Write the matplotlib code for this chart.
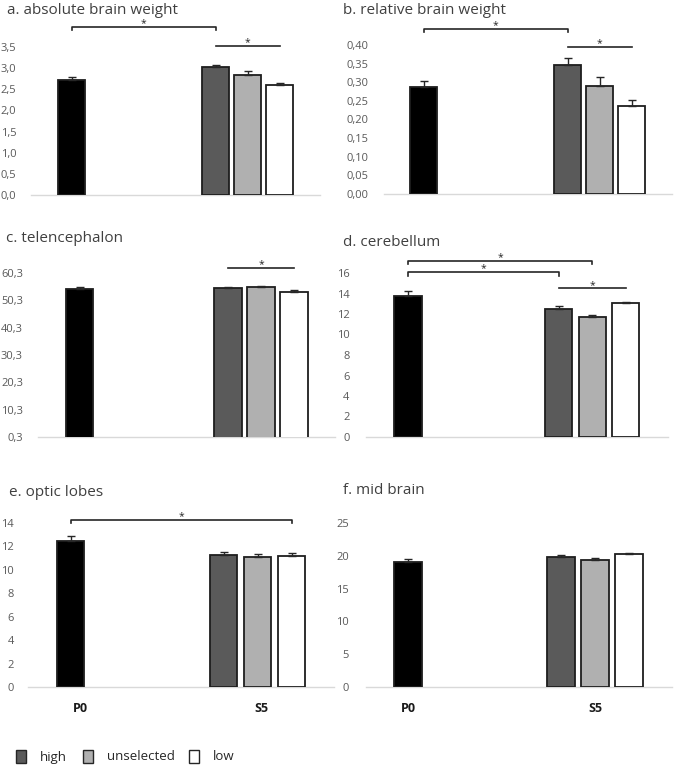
import matplotlib
matplotlib.use("Agg")
import matplotlib.pyplot as plt
from matplotlib.patches import Rectangle

plt.rcParams['font.family'] = ['Open Sans', 'DejaVu Sans']

W, H = 675, 775

groups = ["P0", "high", "unselected", "low"]
bar_colors = ["#000000", "#5a5a5a", "#b0b0b0", "#ffffff"]

titles = ["a. absolute brain weight", "b. relative brain weight", "c. telencephalon",
          "d. cerebellum", "e. optic lobes", "f. mid brain"]

means_a = [2.73, 3.02, 2.84, 2.59]
err_a = [0.07, 0.06, 0.10, 0.06]
means_b = [0.288, 0.346, 0.290, 0.236]
err_b = [0.015, 0.020, 0.025, 0.016]
means_c = [54.6, 54.9, 55.1, 53.5]
err_c = [0.4, 0.4, 0.4, 0.4]
means_d = [13.76, 12.50, 11.67, 13.04]
err_d = [0.45, 0.25, 0.23, 0.16]
means_e = [12.49, 11.25, 11.10, 11.16]
err_e = [0.43, 0.30, 0.26, 0.28]
means_f = [19.10, 19.77, 19.36, 20.22]
err_f = [0.40, 0.30, 0.30, 0.25]

ticks_a = [0.0, 0.5, 1.0, 1.5, 2.0, 2.5, 3.0, 3.5]
ticks_b = [0.00, 0.05, 0.10, 0.15, 0.20, 0.25, 0.30, 0.35, 0.40]
ticks_c = [0.3, 10.3, 20.3, 30.3, 40.3, 50.3, 60.3]
ticks_d = [0, 2, 4, 6, 8, 10, 12, 14, 16]
ticks_e = [0, 2, 4, 6, 8, 10, 12, 14]
ticks_f = [0, 5, 10, 15, 20, 25]

labels_a = ["0,0", "0,5", "1,0", "1,5", "2,0", "2,5", "3,0", "3,5"]
labels_b = ["0,00", "0,05", "0,10", "0,15", "0,20", "0,25", "0,30", "0,35", "0,40"]
labels_c = ["0,3", "10,3", "20,3", "30,3", "40,3", "50,3", "60,3"]
labels_d = [str(t) for t in ticks_d]
labels_e = [str(t) for t in ticks_e]
labels_f = [str(t) for t in ticks_f]

# significance: (group i, group j, height, ticks?)
sig_a = [(0, 1, 3.97, True), (1, 3, 3.52, False)]
sig_b = [(0, 1, 0.443, True), (1, 3, 0.395, False)]
sig_c = [(1, 3, 62.1, False)]
sig_d = [(0, 2, 17.2, True), (0, 1, 16.07, True), (1, 3, 14.5, False)]
sig_e = [(0, 3, 14.26, True)]
sig_f = []

xpos = [0, 4.5, 5.5, 6.5]
xlim = (-1.25, 7.75)

# layout: p0 center px, pitch px, baseline px, top-tick px, label pad, title pos
layout = [
    dict(p0=71.5, pitch=32.0, base=195, top=47, pad=11, tx=7, ty=10),
    dict(p0=423.5, pitch=32.0, base=194, top=45, pad=11, tx=343, ty=10),
    dict(p0=79.5, pitch=33.0, base=437, top=273, pad=11, tx=6, ty=239),
    dict(p0=408, pitch=33.5, base=437, top=273, pad=12, tx=343, ty=242),
    dict(p0=70.5, pitch=34.0, base=687, top=523, pad=10, tx=9, ty=493),
    dict(p0=408, pitch=34.0, base=687, top=523, pad=12, tx=343, ty=491),
]

data = [
    (means_a, err_a, ticks_a, labels_a, sig_a),
    (means_b, err_b, ticks_b, labels_b, sig_b),
    (means_c, err_c, ticks_c, labels_c, sig_c),
    (means_d, err_d, ticks_d, labels_d, sig_d),
    (means_e, err_e, ticks_e, labels_e, sig_e),
    (means_f, err_f, ticks_f, labels_f, sig_f),
]

fig = plt.figure(figsize=(W / 100, H / 100), dpi=100)

text_gray = "#595959"
title_gray = "#404040"

axes = []
for k, (lay, (m, e, ticks, tlabels, sigs)) in enumerate(zip(layout, data)):
    left = lay['p0'] + xlim[0] * lay['pitch']
    right = lay['p0'] + xlim[1] * lay['pitch']
    ax = fig.add_axes([left / W, 1 - lay['base'] / H, (right - left) / W,
                       (lay['base'] - lay['top']) / H])
    ax.set_xlim(*xlim)
    ax.set_ylim(ticks[0], ticks[-1])
    ax.bar(xpos, m, width=0.82, color=bar_colors, edgecolor="#1e1e1e",
           linewidth=1.3, zorder=3)
    ax.errorbar(xpos, m, yerr=[[0] * 4, e], fmt='none', ecolor="#262626",
                elinewidth=1.0, capsize=3.0, capthick=1.0, zorder=4)
    ax.set_yticks(ticks)
    ax.set_yticklabels(tlabels)
    ax.tick_params(axis='y', length=0, labelsize=8, labelcolor=text_gray, pad=lay['pad'])
    ax.set_xticks([])
    for s in ['top', 'right', 'left']:
        ax.spines[s].set_visible(False)
    ax.spines['bottom'].set_color("#d9d9d9")
    ax.spines['bottom'].set_linewidth(1.0)
    ax.patch.set_visible(False)

    yr = ticks[-1] - ticks[0]
    for (i, j, h, tk) in sigs:
        x1, x2 = xpos[i], xpos[j]
        if tk:
            d = yr * 0.02
            ax.plot([x1, x1, x2, x2], [h - d, h, h, h - d], color="#262626",
                    lw=1.2, clip_on=False)
        else:
            ax.plot([x1, x2], [h, h], color="#262626", lw=1.2, clip_on=False)
        ax.annotate("*", xy=((x1 + x2) / 2, h), xytext=(0, 0.5),
                    textcoords='offset points', ha='center', va='baseline',
                    fontsize=7.5, color="#262626", annotation_clip=False)

    fig.text(lay['tx'] / W, 1 - lay['ty'] / H, titles[k], ha='left', va='center',
             fontsize=11, color=title_gray)
    axes.append(ax)

# group labels under bottom panels
group_labels = ["P0", "S5"]
for ax, lay, xs in [(axes[4], layout[4], [80.5, 261]), (axes[5], layout[5], [408, 595])]:
    base = lay['base']
    for lab, px in zip(group_labels, xs):
        fig.text(px / W, 1 - (base + 21) / H, lab, ha='center', va='center',
                 fontsize=9, fontweight='bold', color="#1a1a1a")

# legend
legend_items = [("high", bar_colors[1], 16, 40), ("unselected", bar_colors[2], 83, 107),
                ("low", bar_colors[3], 189, 213)]
for lab, col, sx, tx in legend_items:
    fig.patches.append(Rectangle((sx / W, 1 - 763 / H), 10 / W, 13 / H,
                                 transform=fig.transFigure, facecolor=col,
                                 edgecolor="#262626", linewidth=1.0))
    fig.text(tx / W, 1 - 757 / H, lab, ha='left', va='center', fontsize=9.5,
             color="#262626")

fig.savefig("out.png", dpi=100)
